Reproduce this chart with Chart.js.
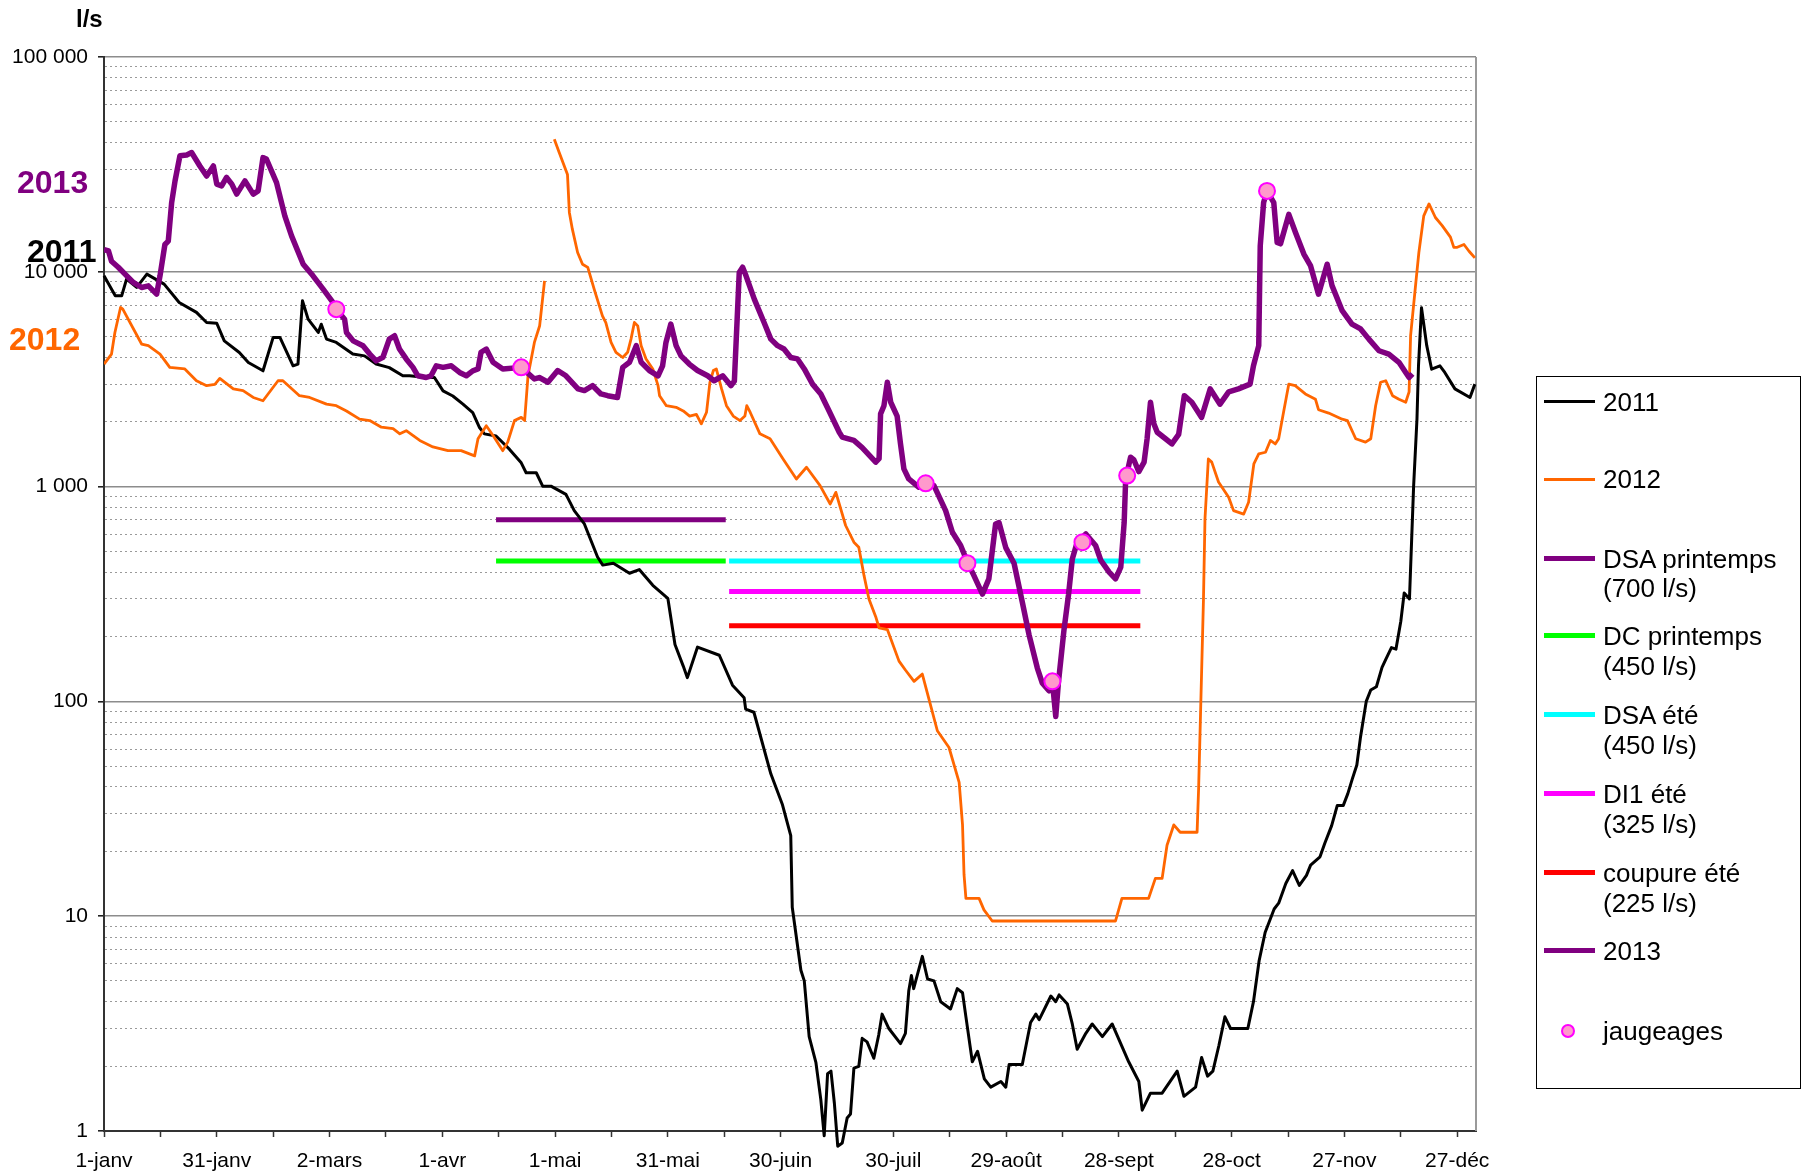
<!DOCTYPE html>
<html lang="fr">
<head>
<meta charset="UTF-8">
<title>Débits 2011 - 2012 - 2013</title>
<script src="https://cdn.jsdelivr.net/npm/chart.js"></script>
<style>
  body { margin: 0; background: #fff; }
  #wrap { position: relative; width: 1804px; height: 1172px; font-family: "Liberation Sans", Arial, sans-serif; }
  #chart { position: absolute; left: 0; top: 0; }
  .legend { position: absolute; left: 1536px; top: 376px; width: 265px; height: 713px; border: 1px solid #000; box-sizing: border-box; }
  .legend .sw { position: absolute; left: 7px; width: 51px; }
  .legend .tx { position: absolute; left: 66px; font-size: 26px; line-height: 28px; color: #000; white-space: nowrap; }
  .legend .dot { position: absolute; left: 24px; width: 10px; height: 10px; border-radius: 50%; background: #FF99CC; border: 2px solid #FF00FF; }
</style>
</head>
<body>
<div id="wrap">
  <canvas id="chart" width="1804" height="1172"></canvas>
  <div class="legend">
    <div class="sw" style="top:23px;height:3px;background:#000"></div>
    <div class="tx" style="top:11px">2011</div>
    <div class="sw" style="top:101px;height:3px;background:#FF6600"></div>
    <div class="tx" style="top:88px">2012</div>
    <div class="sw" style="top:179px;height:5px;background:#800080"></div>
    <div class="tx" style="top:168px">DSA printemps</div>
    <div class="tx" style="top:197px">(700 l/s)</div>
    <div class="sw" style="top:256px;height:5px;background:#00FF00"></div>
    <div class="tx" style="top:245px">DC printemps</div>
    <div class="tx" style="top:275px">(450 l/s)</div>
    <div class="sw" style="top:335px;height:5px;background:#00FFFF"></div>
    <div class="tx" style="top:324px">DSA été</div>
    <div class="tx" style="top:354px">(450 l/s)</div>
    <div class="sw" style="top:414px;height:5px;background:#FF00FF"></div>
    <div class="tx" style="top:403px">DI1 été</div>
    <div class="tx" style="top:433px">(325 l/s)</div>
    <div class="sw" style="top:493px;height:5px;background:#FF0000"></div>
    <div class="tx" style="top:482px">coupure été</div>
    <div class="tx" style="top:512px">(225 l/s)</div>
    <div class="sw" style="top:571px;height:5px;background:#800080"></div>
    <div class="tx" style="top:560px">2013</div>
    <div class="dot" style="top:647px"></div>
    <div class="tx" style="top:640px">jaugeages</div>
  </div>
</div>

<script>
// axe des x : jours depuis le 1er janvier, une étiquette tous les 30 jours
const dateLabels = ['1-janv', '31-janv', '2-mars', '1-avr', '1-mai', '31-mai', '30-juin',
  '30-juil', '29-août', '28-sept', '28-oct', '27-nov', '27-déc'];

// 2011 (l/s)
const days2011 = [0, 3, 4.7, 6, 8.7, 11.4, 16, 20, 24.6, 27.3, 30, 32, 36, 38.4, 42.3, 45, 46.8, 50.3, 51.6, 52.8,
  54.3, 57, 57.8, 59.2, 61.8, 66.2, 69.3, 72.4, 75.9, 79.5, 81.3, 85.7, 87.9, 90.2, 92.8, 95.5, 98.1, 99.9, 101.2,
  104.3, 107.9, 111, 112.3, 115, 116.7, 118.9, 122.9, 125.1, 127.8, 131.3, 132.7, 135.5, 139.8, 142.4, 146, 150,
  151.9, 154.1, 155.2, 157.9, 163.7, 167.2, 170.3, 170.7, 172.9, 177.4, 180.5, 182.7, 183.1, 185.4, 186.3, 187.6,
  189.4, 190.7, 191.6, 192.5, 193.4, 194.3, 195.2, 196.4, 197.7, 198.6, 199.5, 200.8, 201.7, 203, 204.8, 206.1,
  207, 208.8, 211.9, 213.2, 214.1, 214.8, 215.4, 217.7, 219.1, 220.8, 222.6, 225.2, 227, 228.4, 229.3, 231, 232.4,
  234.2, 235.9, 238.6, 239.9, 240.8, 244.3, 246.5, 247.9, 248.8, 251.9, 253.2, 254.1, 256.3, 257.6, 258.9, 261.2,
  262.9, 265.6, 268.2, 272.6, 275.3, 276.2, 278.4, 281.5, 285.5, 287.3, 290.4, 292, 293.6, 295, 296.6, 298.2,
  299.7, 304.3, 305.8, 307.3, 308.9, 311.3, 312.5, 314.4, 316.2, 318, 319.9, 321, 323.5, 324.8, 326.6, 328.1,
  329.7, 330.9, 332.1, 333.3, 334.3, 335.8, 337, 338.5, 340, 341, 342.5, 343.7, 345, 345.9, 347.3, 348.4, 349.3,
  349.7, 350.5, 351.9, 353.2, 355.4, 356.7, 359.4, 363.4, 364.7];
const flow2011 = [9580, 7730, 7730, 9240, 8460, 9750, 8760, 7200, 6470, 5810, 5760, 4770, 4210, 3780, 3460, 4950,
  4950, 3650, 3720, 7330, 6020, 5220, 5700, 4860, 4690, 4140, 4060, 3720, 3580, 3280, 3280, 3220, 3220, 2790, 2640,
  2420, 2210, 1884, 1760, 1720, 1490, 1290, 1160, 1160, 1005, 1005, 920, 773, 670, 470, 431, 440, 395, 411, 347,
  302, 184, 146, 129, 179, 164, 119, 104, 92, 89, 46, 33, 23.7, 11, 5.6, 5, 2.75, 2.08, 1.4, 0.95, 1.85, 1.9, 1.35,
  0.85, 0.88, 1.15, 1.2, 1.96, 2, 2.7, 2.6, 2.18, 2.8, 3.5, 3, 2.55, 2.85, 4.5, 5.3, 4.6, 6.5, 5.1, 5, 4, 3.7, 4.6,
  4.4, 3.4, 2.1, 2.35, 1.75, 1.6, 1.7, 1.6, 2.04, 2.04, 3.2, 3.5, 3.3, 4.25, 4, 4.3, 3.9, 3.15, 2.4, 2.85, 3.15,
  2.75, 3.15, 2.1, 1.7, 1.25, 1.5, 1.5, 1.9, 1.45, 1.6, 2.2, 1.8, 1.9, 2.5, 3.4, 3, 3, 4, 6.2, 8.4, 10.8, 11.5,
  14.2, 16.3, 13.9, 15.5, 17.3, 18.9, 21.9, 26.4, 32.8, 32.8, 37.2, 43.6, 50.6, 68.7, 100, 113, 117, 144, 157,
  178, 175, 236, 320, 300, 1000, 2070, 3650, 6800, 4530, 3520, 3650, 3400, 2850, 2600, 3000];

// 2012 (l/s), null = lacune
const days2012 = [0, 2, 2.9, 4.4, 5, 10, 11.8, 14.9, 17.5, 21.5, 24.6, 27.3, 29.5, 30.8, 34.4, 37, 39.7, 42.3, 46.3,
  47.6, 52, 54.7, 59.2, 61.8, 64.5, 68, 70.7, 73.8, 76.9, 78.7, 80.4, 84, 87.5, 91.5, 95, 98.6, 99.5, 101.7, 103.5,
  106.1, 107.4, 109.2, 111, 111.9, 112.8, 114.5, 115.9, 117.2, 118.5, 119.8, 121.1, 123.3, 123.8, 124.6, 126,
  127.3, 128.7, 130.4, 132.6, 133.5, 134.9, 136.2, 138, 139.3, 140.2, 141.1, 142, 142.9, 144.2, 146, 147.4, 147.8,
  149.6, 152.2, 154.1, 155.8, 157.6, 158.9, 160.3, 161.2, 162.1, 162.9, 164.3, 165.6, 167.4, 169.2, 170.5, 171,
  171.9, 174.5, 177.2, 180.7, 184.2, 186.9, 190.5, 193.2, 194.7, 197.3, 199.5, 200.8, 202.2, 203.5, 205.3, 206.2,
  208.4, 211.5, 213.2, 215.5, 217.7, 219.5, 221.7, 224.8, 227.5, 228.4, 228.8, 229.3, 232.8, 234.1, 236.3, 269.1,
  270.8, 277.9, 279.7, 281.5, 282.8, 284.6, 286.3, 290.8, 291.2, 292.5, 292.9, 293.8, 294.7, 296.5, 299.2, 300.5,
  303.2, 304.5, 305.9, 307.2, 309, 310.3, 311.6, 312.5, 313.8, 315.2, 316.9, 319.6, 322.3, 323.1, 325.8, 329.4,
  330.8, 333, 335.6, 337, 338.3, 339.6, 341, 342.8, 344.5, 346.3, 347.2, 347.6, 349, 349.8, 351.1, 352.5, 354.2,
  356, 358.2, 359.1, 360, 361.8, 363.1, 364.7];
const flow2012 = [3720, 4140, 5220, 6820, 6700, 4610, 4530, 4140, 3590, 3530, 3110, 2950, 2990, 3190, 2850, 2800,
  2600, 2510, 3110, 3110, 2650, 2600, 2420, 2380, 2250, 2060, 2030, 1890, 1860, 1760, 1820, 1640, 1530, 1470, 1470,
  1390, 1670, 1920, 1730, 1470, 1610, 2030, 2100, 2030, 3280, 4690, 5610, 9080, null, 41400, 35900, 28400, 18900,
  15800, 12300, 10850, 10480, 8300, 6230, 5800, 4690, 4220, 3990, 4220, 4860, 5810, 5600, 4530, 3930, 3530, 2950,
  2650, 2380, 2340, 2250, 2130, 2170, 1960, 2220, 3060, 3470, 3530, 2850, 2380, 2130, 2030, 2130, 2380, 2220, 1760,
  1670, 1340, 1085, 1230, 1010, 830, 940, 659, 551, 522, 385, 300, 248, 220, 216, 154, 140, 124, 134, 102, 73, 61,
  42, 26.6, 15.6, 12.1, 12.1, 10.7, 9.5, 9.5, 12.1, 12.1, 15, 15, 21.4, 26.6, 24.6, 24.6, 39, 300, 707, 1345, 1300,
  1050, 892, 773, 745, 845, 1275, 1420, 1445, 1640, 1580, 1670, 2220, 3000, 2950, 2700, 2550, 2280, 2200, 2060,
  2030, 1670, 1610, 1670, 2380, 3060, 3110, 2650, 2550, 2470, 2760, 5040, 8920, 12300, 18200, 20700, 17900, 16400,
  14500, 13000, 13000, 13400, 12500, 11600];

// 2013 (l/s)
const days2013 = [0, 1.2, 2, 3.8, 5.6, 7.8, 10, 11.8, 14, 14.9, 16.2, 17.1, 18, 18.9, 20.2, 22, 23.3, 25.5, 27.3,
  29.1, 30, 31.3, 32.6, 34, 35.3, 37.5, 39.7, 41, 42.3, 43.2, 45.9, 48.1, 49.9, 53, 55.6, 58.3, 60.9, 61.8, 64,
  64.5, 66.3, 68.9, 70.7, 72.4, 74.2, 75.9, 77.3, 78.6, 80.4, 82.2, 83.5, 85.7, 87, 88.4, 90.2, 92.4, 94.6, 96.4,
  98.1, 99.5, 100.3, 101.7, 103.5, 106.1, 111, 114.5, 115.8, 118.1, 120.7, 122.9, 126.1, 127.8, 130, 132.2, 134,
  136.6, 138, 139.8, 141.6, 142.9, 145.1, 147.4, 148.6, 149.5, 150.8, 152.2, 153.5, 155.7, 157.9, 160.6, 162.3,
  164.6, 166.8, 167.7, 169, 169.9, 170.8, 173, 175.6, 177.4, 179.2, 180.9, 182.7, 184.5, 186.3, 188.5, 190.7,
  192.9, 195.6, 196.4, 199.5, 201.7, 205.3, 206.2, 206.6, 207.5, 208.4, 209.3, 211, 211.9, 212.8, 214.1, 216.8,
  218.6, 220.8, 223.9, 225.7, 227.9, 229.7, 231.4, 233.7, 235.4, 237.2, 238.1, 239.9, 242.1, 244.3, 246.1, 248.3,
  249.6, 251.4, 252.3, 253.2, 253.9, 255.4, 256.6, 257.6, 258.9, 261.2, 263.8, 265.2, 267.4, 269.1, 270.5, 271.4,
  271.8, 273.1, 274, 275.3, 276.7, 277.5, 278.4, 279.3, 280.2, 282.4, 284.1, 285.9, 287.4, 289.4, 292, 294.3,
  296.9, 299.2, 301.8, 304.9, 305.8, 307.2, 307.6, 308.5, 309.4, 311.2, 312.1, 313, 315.2, 317, 319.2, 321, 323.1,
  325.4, 326.7, 329.4, 332, 334.3, 336.5, 339.2, 341.8, 344.5, 346.3, 347.2, 348.1];
const flow2013 = [12700, 12500, 11200, 10500, 9750, 8920, 8450, 8600, 7870, 9580, 13400, 13900, 21000, 26500, 34700,
  35000, 35900, 31100, 27900, 31100, 25600, 25100, 27500, 25600, 23000, 26500, 23000, 23800, 34000, 33500, 26000,
  18200, 14700, 10850, 9580, 8300, 7200, 6700, 6020, 5220, 4770, 4530, 4140, 3850, 4000, 4860, 5040, 4370, 3930,
  3590, 3280, 3220, 3280, 3650, 3590, 3650, 3400, 3280, 3460, 3530, 4220, 4370, 3790, 3530, 3590, 3170, 3220, 3060,
  3470, 3280, 2850, 2800, 2950, 2700, 2650, 2600, 3590, 3790, 4530, 3790, 3470, 3280, 3650, 4690, 5710, 4530, 4060,
  3720, 3470, 3280, 3110, 3280, 2950, 3100, 9930, 10500, 9580, 7460, 5810, 4860, 4530, 4370, 3990, 3930, 3530, 3000,
  2700, 2250, 1790, 1700, 1640, 1520, 1300, 1350, 2180, 2380, 3060, 2470, 2130, 1580, 1210, 1085, 993, 1040, 1010,
  773, 613, 532, 445, 386, 316, 372, 670, 680, 520, 440, 290, 204, 143, 122, 112, 124, 85, 122, 216, 314, 460, 551,
  602, 532, 453, 400, 372, 422, 680, 1085, 1370, 1330, 1175, 1300, 1670, 2470, 1960, 1790, 1670, 1580, 1750, 2650,
  2470, 2100, 2850, 2420, 2760, 2850, 3000, 3650, 4530, 13200, 21000, 23800, 21000, 13700, 13500, 18500, 15200,
  12100, 10650, 7870, 10850, 8620, 6590, 5710, 5420, 4860, 4290, 4140, 3790, 3400, 3220, 3350];

// jaugeages 2013
const gaugeDays = [61.8, 111, 218.6, 229.7, 252.3, 260.3, 272.2, 309.4];
const gaugeFlows = [6700, 3590, 1036, 440, 124, 551, 1125, 23800];

// seuils de débit
const thrLabels = ['DSA printemps (700 l/s)', 'DC printemps (450 l/s)', 'DSA été (450 l/s)',
  'DI1 été (325 l/s)', 'coupure été (225 l/s)'];
const thrValues = [700, 450, 450, 325, 225];
const thrFrom = [104.3, 104.3, 166.3, 166.3, 166.3];
const thrTo = [165.4, 165.4, 275.7, 275.7, 275.7];
const thrColors = ['#800080', '#00FF00', '#00FFFF', '#FF00FF', '#FF0000'];

const FONT = '"Liberation Sans", Arial, sans-serif';
Chart.defaults.font.family = FONT;
Chart.defaults.color = '#000';

const toXY = (xs, ys) => xs.map((x, i) => ({ x: x, y: ys[i] }));
const isDecade = v => Math.abs(Math.log10(v) - Math.round(Math.log10(v))) < 1e-9;
const fmt = v => String(Math.round(v)).replace(/\B(?=(\d{3})+(?!\d))/g, ' ');

const datasets = [
  { label: 'jaugeages', data: toXY(gaugeDays, gaugeFlows), showLine: false, order: 0,
    pointRadius: 8, pointBackgroundColor: '#FF99CC', pointBorderColor: '#FF00FF', pointBorderWidth: 2 },
  { label: '2013', data: toXY(days2013, flow2013), borderColor: '#800080', borderWidth: 5.5, order: 1 },
  { label: '2012', data: toXY(days2012, flow2012), borderColor: '#FF6600', borderWidth: 2.8, order: 2, spanGaps: false },
  { label: '2011', data: toXY(days2011, flow2011), borderColor: '#000000', borderWidth: 3, order: 3,
    clip: { left: 2, top: 2, right: 2, bottom: 18 } }
];
thrLabels.forEach((name, i) => {
  datasets.push({
    label: name,
    data: [{ x: thrFrom[i], y: thrValues[i] }, { x: thrTo[i], y: thrValues[i] }],
    borderColor: thrColors[i], borderWidth: 5, order: 4 + i
  });
});

// cadre droit + étiquettes d'années
const extras = {
  id: 'extras',
  beforeDatasetsDraw(chart) {
    const { ctx, chartArea: a } = chart;
    ctx.save();
    ctx.strokeStyle = '#9a9a9a';
    ctx.lineWidth = 2;
    ctx.beginPath();
    ctx.moveTo(a.right, a.top);
    ctx.lineTo(a.right, a.bottom);
    ctx.stroke();
    ctx.restore();
  },
  afterDraw(chart) {
    const ctx = chart.ctx;
    ctx.save();
    ctx.textBaseline = 'middle';
    ctx.textAlign = 'left';
    ctx.font = 'bold 24px ' + FONT;
    ctx.fillStyle = '#000';
    ctx.fillText('l/s', 76, 20);
    ctx.font = 'bold 32px ' + FONT;
    ctx.fillStyle = '#800080';
    ctx.fillText('2013', 17, 184);
    ctx.fillStyle = '#000';
    ctx.fillText('2011', 27, 253);
    ctx.fillStyle = '#FF6600';
    ctx.fillText('2012', 9, 341);
    ctx.restore();
  }
};

new Chart(document.getElementById('chart'), {
  type: 'line',
  data: { datasets: datasets },
  plugins: [extras],
  options: {
    responsive: false,
    animation: false,
    devicePixelRatio: 1,
    layout: { padding: { left: 0, top: 57, right: 328, bottom: 0 } },
    elements: { point: { radius: 0 }, line: { tension: 0, borderCapStyle: 'butt', borderJoinStyle: 'round' } },
    plugins: { legend: { display: false }, tooltip: { enabled: false } },
    scales: {
      x: {
        type: 'linear', min: 0, max: 365,
        afterFit: s => { s.height = 41; },
        afterBuildTicks: s => {
          const t = [];
          for (let d = 0; d <= 360; d += 15) t.push({ value: d });
          s.ticks = t;
        },
        ticks: {
          autoSkip: false, maxRotation: 0, padding: 12,
          font: { size: 21 },
          callback: v => (v % 30 === 0 ? dateLabels[v / 30] : '')
        },
        grid: { drawOnChartArea: false, tickLength: 6, tickColor: '#333', tickWidth: 1.5 },
        border: { color: '#333', width: 2 }
      },
      y: {
        type: 'logarithmic', min: 1, max: 100000,
        afterFit: s => { s.width = 104; },
        afterBuildTicks: s => {
          const t = [];
          for (let p = 1; p < 100000; p *= 10) {
            for (let m = 1; m <= 9; m++) t.push({ value: m * p });
          }
          t.push({ value: 100000 });
          s.ticks = t;
        },
        ticks: {
          autoSkip: false, padding: 10,
          font: { size: 21 },
          callback: v => (isDecade(v) ? fmt(v) : '')
        },
        grid: {
          color: c => (c.tick && isDecade(c.tick.value) ? '#8c8c8c' : '#9a9a9a'),
          lineWidth: c => (c.tick && isDecade(c.tick.value) ? 1.6 : 1),
          tickLength: 6,
          tickColor: c => (c.tick && isDecade(c.tick.value) ? '#222' : 'rgba(0,0,0,0)')
        },
        border: {
          color: '#333', width: 2,
          dash: c => (c.tick && !isDecade(c.tick.value) ? [2, 3] : [])
        }
      }
    }
  }
});
</script>
</body>
</html>
